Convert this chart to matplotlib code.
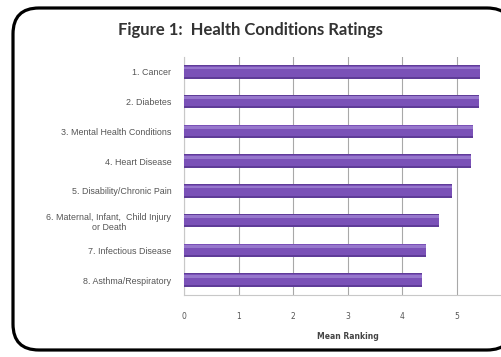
import matplotlib.pyplot as plt
from matplotlib.patches import FancyBboxPatch

conditions = ['1. Cancer', '2. Diabetes', '3. Mental Health Conditions',
              '4. Heart Disease', '5. Disability/Chronic Pain',
              '6. Maternal, Infant,  Child Injury\nor Death',
              '7. Infectious Disease', '8. Asthma/Respiratory']
mean_ranking = [5.43, 5.40, 5.29, 5.25, 4.90, 4.67, 4.43, 4.35]
x_ticks = [0, 1, 2, 3, 4, 5]

W, H = 502, 357
fig = plt.figure(figsize=(W / 100, H / 100), dpi=100)

# background layer in pixel units for the rounded frame and title
bg = fig.add_axes([0, 0, 1, 1])
bg.set_xlim(0, W)
bg.set_ylim(H, 0)
bg.axis('off')
frame = FancyBboxPatch((13, 8), 500, 342, boxstyle='round,pad=0,rounding_size=26',
                       fc='white', ec='black', lw=2.3)
bg.add_patch(frame)
bg.text(250, 30, 'Figure 1:  Health Conditions Ratings', ha='center', va='center',
        fontsize=12, fontweight='bold', family='Lato', color='#333333')

# plot area: x=0 at 184px, 54.6px per unit, rows from 57px to 295px
x0, unit, top, bottom = 184, 54.6, 57, 295
xmax = 6
ax = fig.add_axes([x0 / W, 1 - bottom / H, xmax * unit / W, (bottom - top) / H])
ax.set_xlim(0, xmax)
pos = list(range(len(conditions)))
ax.set_ylim(len(conditions) - 0.5, -0.5)

ax.barh(pos, mean_ranking, height=0.46, color='#5f3c98', zorder=3)
ax.barh([p - 0.02 for p in pos], mean_ranking, height=0.36, color='#7a51b7', zorder=3)
ax.barh([p - 0.13 for p in pos], mean_ranking, height=0.09, color='#9677cc', zorder=3)

ax.set_xticks(x_ticks)
ax.set_xticklabels([str(t) for t in x_ticks], fontsize=5.5, color='#555555')
ax.set_yticks(pos)
ax.set_yticklabels(conditions, fontsize=6.4, color='#555555', family='Liberation Sans',
                   multialignment='center')
ax.tick_params(length=0, pad=9)
ax.tick_params(axis='x', pad=12)
ax.grid(axis='x', color='#a8a8a8', lw=0.8, zorder=0)
for side in ['top', 'right']:
    ax.spines[side].set_visible(False)
for side in ['left', 'bottom']:
    ax.spines[side].set_color('#c8c8c8')
    ax.spines[side].set_linewidth(0.8)
ax.set_xlabel('Mean Ranking', fontsize=5.5, fontweight='bold', color='#444444', labelpad=8)

fig.savefig('out.png', dpi=100)
